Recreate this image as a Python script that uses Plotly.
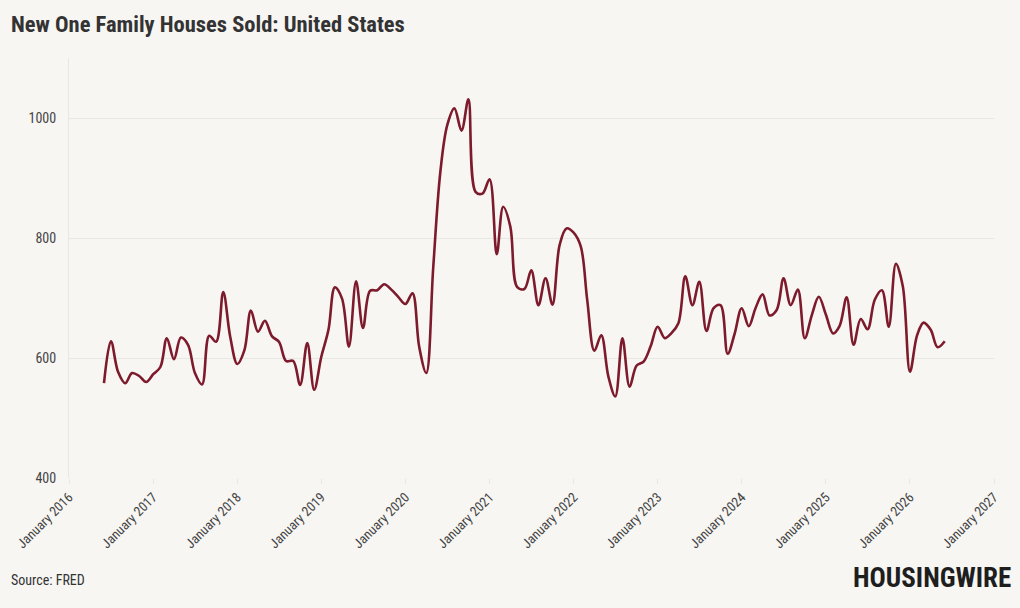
import pandas as pd
import plotly.graph_objects as go

# Monthly series, June 2016 - June 2026 (thousands, SAAR)
start_month = "2016-06-01"
sales = [
    558, 628, 577, 558, 575, 570, 560, 573, 585, 633,
    598, 634, 622, 575, 556, 637, 627, 710, 636, 590,
    613, 679, 644, 662, 636, 627, 595, 595, 555, 625,
    547, 602, 647, 718, 699, 619, 728, 650, 712, 713,
    723, 714, 702, 690, 708, 619, 575, 750, 910, 988,
    1016, 979, 1031, 877, 874, 898, 773, 852, 819, 718,
    715, 746, 688, 733, 689, 788, 816, 809, 786, 697,
    612, 638, 569, 536, 633, 552, 587, 594, 619, 652,
    633, 641, 658, 736, 688, 727, 645, 683, 688, 607,
    640, 683, 653, 683, 706, 671, 680, 733, 688, 714,
    633, 672, 702, 672, 641, 653, 701, 622, 665, 648,
    697, 713, 652, 757, 719, 577, 638, 659, 647, 618,
    628,
]
dates = pd.date_range(start_month, periods=len(sales), freq="MS")

tick_years = list(range(2016, 2028))
tick_vals = [f"{y}-01-01" for y in tick_years]
tick_text = [f"January {y}" for y in tick_years]
y_ticks = [400, 600, 800, 1000]

title_text = "New One Family Houses Sold: United States"
source_text = "Source: FRED"
logo_text = "HOUSINGWIRE"

bg = "#f7f6f3"
line_color = "#7d1a2b"
grid_color = "#e9e7e2"
cond_font = "Roboto Condensed, Liberation Sans Narrow, DejaVu Sans Condensed, Roboto, sans-serif"

fig = go.Figure()
fig.add_trace(go.Scatter(
    x=dates, y=sales, mode="lines",
    line=dict(color=line_color, width=2.6, shape="spline", smoothing=1.0),
    hoverinfo="x+y", showlegend=False,
))

fig.update_layout(
    width=1020, height=608,
    paper_bgcolor=bg, plot_bgcolor=bg,
    margin=dict(l=69, r=26, t=58, b=130),
    font=dict(family=cond_font, color="#444444", size=13),
    xaxis=dict(
        range=["2016-01-01", "2027-01-01"],
        tickvals=tick_vals, ticktext=tick_text, tickangle=-45,
        showgrid=False, zeroline=False,
        showline=False,
        ticks="outside", ticklen=5, tickcolor=grid_color,
        tickfont=dict(family=cond_font, size=13.5, color="#444444"),
    ),
    yaxis=dict(
        range=[400, 1100], tickvals=y_ticks,
        showgrid=True, gridcolor=grid_color, gridwidth=1,
        zeroline=False, showline=True, linecolor=grid_color, linewidth=1,
        ticks="", ticklabelstandoff=9,
        tickfont=dict(family=cond_font, size=14, color="#444444"),
    ),
    annotations=[
        dict(text=f"<b>{title_text}</b>", xref="paper", yref="paper",
             x=(9 - 69)/925, y=1 + (58 - 24)/420, xanchor="left", yanchor="middle",
             showarrow=False, font=dict(family=cond_font, size=22.5, color="#333333")),
        dict(text=source_text, xref="paper", yref="paper",
             x=(9 - 69)/925, y=-(580 - 478)/420, xanchor="left", yanchor="middle",
             showarrow=False, font=dict(family=cond_font, size=14, color="#333333")),
        dict(text=f"<b>{logo_text}</b>", xref="paper", yref="paper",
             x=(1013 - 69)/925, y=-(578 - 478)/420, xanchor="right", yanchor="middle",
             showarrow=False, font=dict(family=cond_font, size=27, color="#1e1e1e")),
    ],
)

fig.write_html("out.html")
